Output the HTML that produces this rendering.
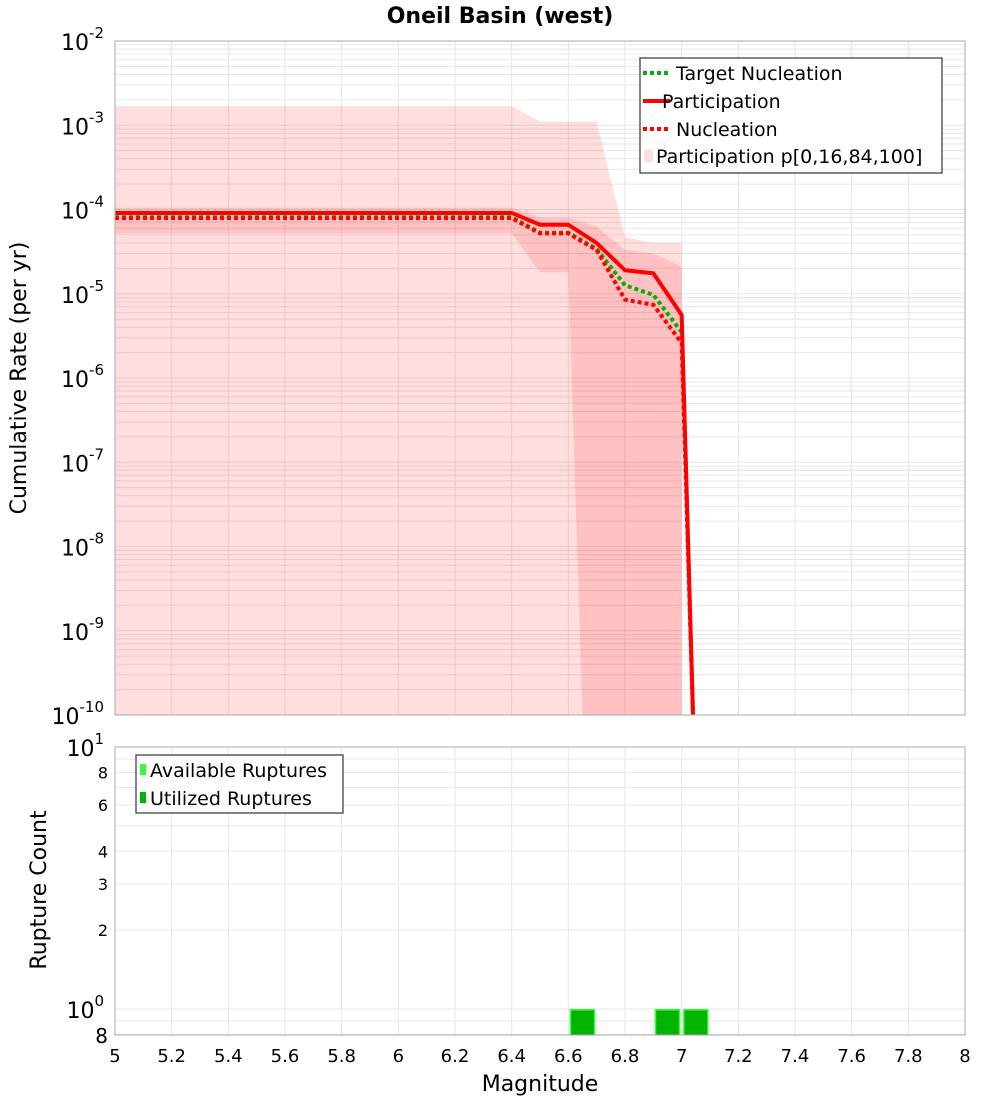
<!DOCTYPE html>
<html><head><meta charset="utf-8"><style>
body{margin:0;background:#fff;font-family:"Liberation Sans","DejaVu Sans",sans-serif;}
svg text{font-family:"DejaVu Sans","Liberation Sans",sans-serif;}
</style></head><body>
<svg id="chart" width="1000" height="1100" xmlns="http://www.w3.org/2000/svg">
<text x="500" y="23" text-anchor="middle" font-size="22" font-weight="bold">Oneil Basin (west)</text>
<g id="topplot"></g><g id="botplot"></g>
<text transform="translate(26,378) rotate(-90)" text-anchor="middle" font-size="22">Cumulative Rate (per yr)</text>
<text transform="translate(46,890) rotate(-90)" text-anchor="middle" font-size="22">Rupture Count</text>
<text x="540" y="1091" text-anchor="middle" font-size="22">Magnitude</text>
</svg>
<script>
const mags=[5.0,5.1,5.2,5.3,5.4,5.5,5.6,5.7,5.8,5.9,6.0,6.1,6.2,6.3,6.4,6.5,6.6,6.7,6.8,6.9,7.0,7.04];
const participation=[9.1e-5,9.1e-5,9.1e-5,9.1e-5,9.1e-5,9.1e-5,9.1e-5,9.1e-5,9.1e-5,9.1e-5,9.1e-5,9.1e-5,9.1e-5,9.1e-5,9.1e-5,6.6e-5,6.6e-5,4.0e-5,1.9e-5,1.75e-5,5.6e-6,1e-10];
const nucleation=[7.9e-5,7.9e-5,7.9e-5,7.9e-5,7.9e-5,7.9e-5,7.9e-5,7.9e-5,7.9e-5,7.9e-5,7.9e-5,7.9e-5,7.9e-5,7.9e-5,7.9e-5,5.2e-5,5.2e-5,3.3e-5,8.5e-6,7.4e-6,2.6e-6,1e-10];
const targetNucleation=[8.1e-5,8.1e-5,8.1e-5,8.1e-5,8.1e-5,8.1e-5,8.1e-5,8.1e-5,8.1e-5,8.1e-5,8.1e-5,8.1e-5,8.1e-5,8.1e-5,8.1e-5,5.3e-5,5.3e-5,3.4e-5,1.26e-5,9.7e-6,3.5e-6,1e-10];
const bandMags=[5.0,6.4,6.5,6.6,6.65,6.7,6.8,6.9,7.0];
const p100=[1.7e-3,1.7e-3,1.1e-3,1.1e-3,1.1e-3,1.1e-3,4.7e-5,4.0e-5,4.0e-5];
const p84=[1.05e-4,1.05e-4,7.9e-5,7.9e-5,7.0e-5,6.2e-5,3.3e-5,3.0e-5,2.1e-5];
const p16=[5.2e-5,5.2e-5,1.8e-5,1.8e-5,1e-10,1e-10,1e-10,1e-10,1e-10];
const p0=[1e-10,1e-10,1e-10,1e-10,1e-10,1e-10,1e-10,1e-10,1e-10];
const barMags=[6.65,6.95,7.05];
const availableCounts=[1,1,1];
const utilizedCounts=[1,1,1];
const xTicks=["5","5.2","5.4","5.6","5.8","6","6.2","6.4","6.6","6.8","7","7.2","7.4","7.6","7.8","8"];
const topDecades=[-2,-3,-4,-5,-6,-7,-8,-9,-10];
const botTickVals=[8,6,4,3,2];

const NS="http://www.w3.org/2000/svg";
const L=115,R=965,T1=41,B1=715,T2=747,B2=1035;
const X=m=>L+(m-5)/3*(R-L);
const Y1=v=>T1+(-2-Math.log10(v))/8*(B1-T1);
const bLo=Math.log10(0.796),bHi=1;
const Y2=v=>B2-(Math.log10(v)-bLo)/(bHi-bLo)*(B2-T2);
function el(p,tag,a){const e=document.createElementNS(NS,tag);for(const k in a)e.setAttribute(k,a[k]);p.appendChild(e);return e;}
const gTop=document.getElementById('topplot'),gBot=document.getElementById('botplot');
el(gTop,'defs',{}).innerHTML='<clipPath id="c1"><rect x="115" y="41" width="850" height="674"/></clipPath>';

function grids(g,T,B,hy){
  for(let i=0;i<=15;i++){const x=X(5+i*0.2);const l=el(g,'line',{x1:x,x2:x,y1:T,y2:B,stroke:'#e6e6e6','stroke-width':1});
  
  }
  hy.forEach(y=>{const l=el(g,'line',{x1:L,x2:R,y1:y,y2:y,stroke:'#e6e6e6','stroke-width':1});
  
  });
}
const hy1=[];for(let d=-10;d<-2;d++)for(let k=1;k<10;k++)hy1.push(Y1(k*Math.pow(10,d)));hy1.push(Y1(1e-2));
grids(gTop,T1,B1,hy1);
const hy2=[];[0.8,0.9,1,2,3,4,5,6,7,8,9,10].forEach(v=>hy2.push(Y2(v)));
grids(gBot,T2,B2,hy2);

function band(up,lo,fill,name){
  let pts=bandMags.map((m,i)=>X(m)+','+Y1(up[i]));
  for(let i=bandMags.length-1;i>=0;i--)pts.push(X(bandMags[i])+','+Y1(lo[i]));
  const p=el(gTop,'polygon',{points:pts.join(' '),fill:fill,'clip-path':'url(#c1)'});
  
  
}
band(p100,p0,'rgba(255,0,0,0.13)','band-p0-p100');
band(p84,p16,'rgba(255,0,0,0.13)','band-p16-p84');

function line(vals,color,dash,w,name){
  const p=el(gTop,'polyline',{points:mags.map((m,i)=>X(m)+','+Y1(vals[i])).join(' '),fill:'none',stroke:color,'stroke-width':w,'stroke-dasharray':dash,'clip-path':'url(#c1)'});
  
  
}
line(targetNucleation,'#00b300','4 3',4,'target-nucleation-line');
line(nucleation,'#ff0000','4 3',4,'nucleation-line');
line(participation,'#ff0000','none',4,'participation-line');

barMags.forEach((m,i)=>{
  const w=X(5.09)-X(5);
  const a=el(gBot,'rect',{x:X(m-0.045),y:Y2(availableCounts[i]),width:w,height:B2-Y2(availableCounts[i]),fill:'#33ff33'});
  
  
  const u=el(gBot,'rect',{x:X(m-0.045)+1.5,y:Y2(utilizedCounts[i])+1.5,width:w-3,height:B2-Y2(utilizedCounts[i])-1.5,fill:'#00b300'});
  
  
});

[[gTop,T1,B1],[gBot,T2,B2]].forEach(([g,T,B])=>{const f=el(g,'rect',{x:L,y:T,width:R-L,height:B-T,fill:'none',stroke:'#aaa','stroke-width':1});

});

xTicks.forEach(t=>{const e=el(gBot,'text',{x:X(+t),y:1062,'text-anchor':'middle','font-size':18});e.textContent=t;

});
topDecades.forEach(d=>{const e=el(gTop,'text',{x:104,y:Y1(Math.pow(10,d))+9,'text-anchor':'end','font-size':22});
e.innerHTML='10<tspan dy="-12" font-size="15">'+d+'</tspan>';

});
[[1,'1'],[0,'0']].forEach(([d,s])=>{const e=el(gBot,'text',{x:104,y:Y2(Math.pow(10,d))+9,'text-anchor':'end','font-size':22});
e.innerHTML='10<tspan dy="-12" font-size="15">'+s+'</tspan>';

});
botTickVals.forEach(v=>{const e=el(gBot,'text',{x:108,y:Y2(v)+6,'text-anchor':'end','font-size':16});e.textContent=v;

});
{const e=el(gBot,'text',{x:108,y:1043,'text-anchor':'end','font-size':20});e.textContent='8';

}

const lg=el(gTop,'g',{});


el(lg,'rect',{x:640,y:58,width:302,height:115,fill:'#fff',stroke:'#333','stroke-width':1.2});
const items=[['Target Nucleation','#00b300','4 3'],['Participation','#ff0000','none'],['Nucleation','#ff0000','4 3']];
items.forEach((it,i)=>{const y=73+i*28;
 const l=el(lg,'line',{x1:643,x2:670,y1:y,y2:y,stroke:it[1],'stroke-width':4,'stroke-dasharray':it[2]});
 
 
 const t=el(lg,'text',{x:it[2]=='none'?662:676,y:y+7,'font-size':19});t.textContent=it[0];
 
 });
{const r=el(lg,'rect',{x:644,y:150,width:9,height:12,fill:'rgba(255,0,0,0.13)'});


const t=el(lg,'text',{x:656,y:163,'font-size':19});t.textContent='Participation p[0,16,84,100]';

}
const lb=el(gBot,'g',{});


el(lb,'rect',{x:136,y:755,width:207,height:58,fill:'#fff',stroke:'#333','stroke-width':1.2});
[['Available Ruptures','#33ff33',770],['Utilized Ruptures','#00b300',798]].forEach(it=>{
 const r=el(lb,'rect',{x:140,y:it[2]-6,width:6,height:11,fill:it[1]});
 
 
 const t=el(lb,'text',{x:150,y:it[2]+7,'font-size':19});t.textContent=it[0];
 
 });
</script>
</body></html>
